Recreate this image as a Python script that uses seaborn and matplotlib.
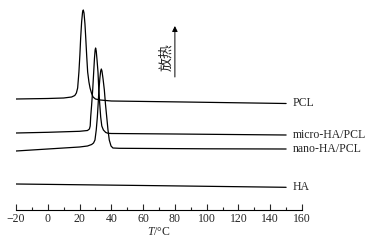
import numpy as np
import pandas as pd
import seaborn as sns
import matplotlib.pyplot as plt

# DSC cooling curves, heat flow in arbitrary units (exotherm up, curves offset)
pcl_t = [-20, 0, 10, 15, 17, 18, 18.8, 19.6, 20.2, 20.7, 21.3, 21.9, 22.35, 22.8,
         23.4, 23.9, 24.5, 25.1, 25.9, 26.6, 27.5, 28.5, 30, 33, 40, 86, 150]
pcl_q = [111, 111.5, 112, 113, 114.5, 117, 122, 138, 155, 172, 188, 198, 200, 197,
         186, 172, 154, 138, 128, 122, 117, 113, 111, 110, 109, 108, 106.5]

micro_t = [-20, 0, 20, 25, 26.2, 26.7, 27.0, 27.6, 28.3, 28.9, 29.4, 29.8, 30.1,
           30.5, 31.0, 31.6, 32.1, 32.7, 33.3, 34, 35, 36.5, 38, 40, 80, 150]
micro_q = [77, 77.7, 78.7, 79.5, 81, 84, 93, 105, 121, 138, 152, 160, 162,
           159, 150, 138, 121, 106, 93, 84, 80, 77.5, 76.7, 76.5, 76, 75]

nano_t = [-20, 0, 20, 25, 27.6, 28.8, 29.7, 30.5, 31.2, 31.7, 32.2, 32.8, 33.3,
          33.7, 34.1, 34.8, 35.6, 36.3, 37.1, 37.9, 38.7, 39.8, 41, 45, 100, 150]
nano_q = [59, 61, 63, 64, 65.5, 67, 70, 80, 93, 106, 120, 132, 139,
          141, 139, 131, 120, 106, 93, 80, 70, 64, 62, 61.7, 61.2, 61]

ha_t = [-20, 60, 150]
ha_q = [26, 24.5, 22.7]

samples = ['PCL', 'micro-HA/PCL', 'nano-HA/PCL', 'HA']
curves = [(pcl_t, pcl_q), (micro_t, micro_q), (nano_t, nano_q), (ha_t, ha_q)]

sns.set_style('white')
plt.rcParams['font.family'] = ['Liberation Serif', 'Noto Sans CJK SC']
plt.rcParams['mathtext.fontset'] = 'custom'
plt.rcParams['mathtext.it'] = 'Liberation Serif:italic'
plt.rcParams['mathtext.rm'] = 'Liberation Serif'

fig = plt.figure(figsize=(3.69, 2.45), dpi=100)
ax = fig.add_axes([16 / 369, 35 / 245, 286 / 369, 205 / 245])

for name, (t, q) in zip(samples, curves):
    sns.lineplot(x=t, y=q, ax=ax, color='black', linewidth=0.9)
    ax.annotate(name, xy=(t[-1], q[-1]), xytext=(5, 0), textcoords='offset points',
                va='center', ha='left', fontsize=8.5, annotation_clip=False)

ax.set_xlim(-20, 160)
ax.set_ylim(0, 205)
ax.set_xticks(np.arange(-20, 161, 20))
ax.set_xticks(np.arange(-10, 160, 20), minor=True)
ax.set_xticklabels(['\u221220'] + [str(v) for v in range(0, 161, 20)])
ax.set_yticks([])
ax.tick_params(axis='x', which='major', direction='in', length=4, width=0.8,
               labelsize=8.5, pad=2, bottom=True)
ax.tick_params(axis='x', which='minor', direction='in', length=2.5, width=0.8, bottom=True)
for side in ['top', 'left', 'right']:
    ax.spines[side].set_visible(False)
ax.spines['bottom'].set_linewidth(0.8)
ax.spines['bottom'].set_color('black')
ax.set_xlabel('$T$/\u00b0C', fontsize=8.5, labelpad=1)
ax.set_ylabel('')

# exotherm direction marker
ax.annotate('', xy=(80, 184), xytext=(80, 133),
            arrowprops=dict(arrowstyle='-|>', color='black', lw=0.7,
                            mutation_scale=8, shrinkA=0, shrinkB=0))
ax.text(74.5, 153, '放热', rotation=90, va='center', ha='center', fontsize=10,
        family=['Noto Sans CJK SC', 'DejaVu Sans'])

fig.savefig('out.png', dpi=100)
